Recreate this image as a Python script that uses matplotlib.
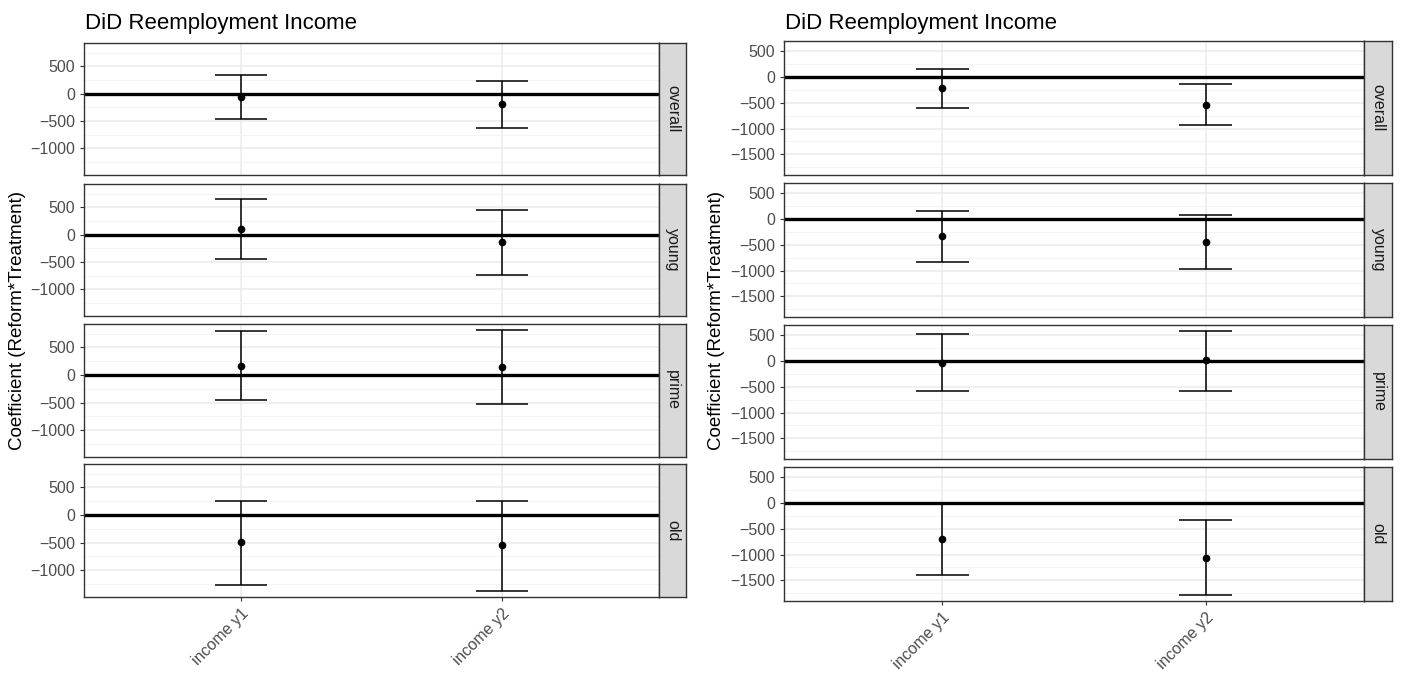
import matplotlib
matplotlib.use("Agg")
import matplotlib.pyplot as plt
from matplotlib.ticker import MultipleLocator

plt.rcParams['font.family'] = ['Liberation Sans', 'DejaVu Sans']

terms = ['income y1', 'income y2']
groups = ['overall', 'young', 'prime', 'old']

# left chart: estimate, lower and upper bound per group (rows) and term (cols)
left_est = [[-55, -189], [96, -133], [171, 152], [-494, -554]]
left_lo = [[-457, -622], [-446, -741], [-457, -518], [-1265, -1380]]
left_hi = [[341, 238], [651, 446], [805, 817], [259, 259]]

# right chart
right_est = [[-223, -541], [-327, -442], [-32, 13], [-692, -1058]]
right_lo = [[-605, -936], [-827, -962], [-576, -576], [-1397, -1782]]
right_hi = [[146, -134], [160, 83], [513, 576], [-5, -327]]

title = 'DiD Reemployment Income'
ylab = 'Coefficient (Reform*Treatment)'

W, H = 1401, 675
fig = plt.figure(figsize=(W / 100, H / 100), dpi=100)


def box(x0, y0, x1, y1):
    return [x0 / W, 1 - y1 / H, (x1 - x0) / W, (y1 - y0) / H]


def draw_side(est, lo, hi, px, sx, rows, tx, lx):
    flat_lo = min(min(r) for r in lo)
    flat_hi = max(max(r) for r in hi)
    pad = 0.05 * (flat_hi - flat_lo)
    xs = range(1, len(terms) + 1)
    for i, g in enumerate(groups):
        y0, y1 = rows[i]
        ax = fig.add_axes(box(px[0], y0, px[1], y1))
        ax.set_xlim(0.4, len(terms) + 0.6)
        ax.set_ylim(flat_lo - pad, flat_hi + pad)
        ax.yaxis.set_major_locator(MultipleLocator(500))
        ax.yaxis.set_minor_locator(MultipleLocator(250))
        ax.set_xticks(list(xs))
        ax.grid(which='major', color='#EBEBEB', lw=1.1, zorder=0)
        ax.grid(which='minor', axis='y', color='#F2F2F2', lw=0.6, zorder=0)
        ax.set_axisbelow(True)
        ax.axhline(0, color='black', lw=2.4, zorder=2)
        e = est[i]
        l = lo[i]
        h = hi[i]
        ax.vlines(list(xs), l, h, color='black', lw=1.1, zorder=3)
        ax.hlines(l, [x - 0.1 for x in xs], [x + 0.1 for x in xs], color='black', lw=1.1, zorder=3)
        ax.hlines(h, [x - 0.1 for x in xs], [x + 0.1 for x in xs], color='black', lw=1.1, zorder=3)
        ax.plot(list(xs), e, 'o', color='black', ms=4.5, zorder=4)
        for s in ax.spines.values():
            s.set_color('#333333')
            s.set_linewidth(1.0)
        ax.tick_params(which='major', length=3, color='#333333', labelsize=11.5, labelcolor='#4D4D4D', width=0.8)
        ax.tick_params(which='minor', length=0)
        ax.set_yticklabels([('%d' % v).replace('-', '\u2212') for v in ax.get_yticks()])
        if i < len(groups) - 1:
            ax.tick_params(axis='x', length=0, labelbottom=False)
        else:
            ax.set_xticklabels(terms, rotation=45, ha='right', va='top', rotation_mode='anchor', fontsize=11.5)
        st = fig.add_axes(box(sx[0], y0, sx[1], y1))
        st.set_facecolor('#D9D9D9')
        st.set_xticks([])
        st.set_yticks([])
        for s in st.spines.values():
            s.set_color('#333333')
            s.set_linewidth(1.0)
        st.text(0.5, 0.5, g, rotation=-90, ha='center', va='center', fontsize=11.5, color='#1A1A1A',
                transform=st.transAxes)
    fig.text(tx / W, 1 - 29 / H, title, fontsize=16, ha='left', va='baseline')
    mid = (rows[0][0] + rows[-1][1]) / 2
    fig.text(lx / W, 1 - mid / H, ylab, fontsize=13.5, rotation=90, ha='center', va='center')


draw_side(left_est, left_lo, left_hi, (84, 659), (659, 686),
          [(43, 175), (184, 316), (324, 457), (464, 597)], 85, 18)
draw_side(right_est, right_lo, right_hi, (784, 1364), (1364, 1392),
          [(41, 175), (183, 317), (325, 459), (467, 601)], 785, 716)

fig.savefig('out.png', dpi=100, facecolor='white')
